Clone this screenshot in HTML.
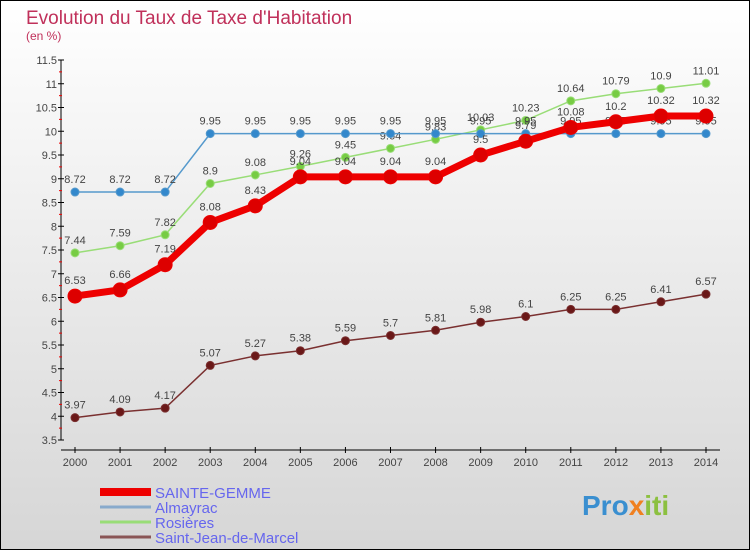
<!DOCTYPE html>
<html><head><meta charset="utf-8"><style>
body{margin:0;}
svg text{font-family:"Liberation Sans",sans-serif;}
</style></head><body>
<svg id="chart" width="750" height="550" xmlns="http://www.w3.org/2000/svg">
<defs><linearGradient id="bg" x1="0" y1="0" x2="0" y2="1"><stop offset="0" stop-color="#ffffff"/><stop offset="1" stop-color="#d6d6d6"/></linearGradient></defs>
<rect x="0.5" y="0.5" width="749" height="549" fill="url(#bg)" stroke="#000"/>
<text x="26" y="24" font-size="19" fill="#c0305a">Evolution du Taux de Taxe d'Habitation</text>
<text x="26" y="40" font-size="12" fill="#c0305a">(en %)</text>
<g id="axes"></g><g id="series"></g><g id="legend"></g>
<text x="582" y="515" font-size="28" font-weight="bold" fill="#3a8fd0">Pro<tspan fill="#f08020">x</tspan><tspan fill="#8cc040">iti</tspan></text>
</svg>
<script>
const years=[2000,2001,2002,2003,2004,2005,2006,2007,2008,2009,2010,2011,2012,2013,2014];
const yTicks=[3.5,4,4.5,5,5.5,6,6.5,7,7.5,8,8.5,9,9.5,10,10.5,11,11.5];
const sainteGemme=[6.53,6.66,7.19,8.08,8.43,9.04,9.04,9.04,9.04,9.5,9.79,10.08,10.2,10.32,10.32];
const almayrac=[8.72,8.72,8.72,9.95,9.95,9.95,9.95,9.95,9.95,9.95,9.95,9.95,9.95,9.95,9.95];
const rosieres=[7.44,7.59,7.82,8.9,9.08,9.26,9.45,9.64,9.83,10.03,10.23,10.64,10.79,10.9,11.01];
const saintJean=[3.97,4.09,4.17,5.07,5.27,5.38,5.59,5.7,5.81,5.98,6.1,6.25,6.25,6.41,6.57];
const seriesNames=["SAINTE-GEMME","Almayrac","Rosières","Saint-Jean-de-Marcel"];
const NS="http://www.w3.org/2000/svg";
const xS=i=>75+i*(706-75)/(years.length-1);
const yS=v=>60+(11.5-v)*47.5;
function mk(t,a,p){const e=document.createElementNS(NS,t);for(const k in a)e.setAttribute(k,a[k]);p.appendChild(e);return e;}
const ax=document.getElementById('axes');
const yl=mk('line',{x1:61,y1:60,x2:61,y2:440,stroke:'#000'},ax);


yTicks.forEach(v=>{
 mk('line',{x1:58,x2:64,y1:yS(v),y2:yS(v),stroke:'#000'},ax);
 const t=mk('text',{x:57,y:yS(v)+4,'font-size':11,fill:'#444','text-anchor':'end'},ax);t.textContent=String(v);
 
 
 if(v<11.5) mk('line',{x1:59,x2:62,y1:yS(v+0.25),y2:yS(v+0.25),stroke:'#e00'},ax);
});
const xl=mk('line',{x1:61,y1:450,x2:720,y2:450,stroke:'#000'},ax);


years.forEach((y,i)=>{
 mk('line',{x1:xS(i),x2:xS(i),y1:447,y2:453,stroke:'#000'},ax);
 const t=mk('text',{x:xS(i),y:466,'font-size':11,fill:'#444','text-anchor':'middle'},ax);t.textContent=y;
 
 
});
const sg=document.getElementById('series');
function draw(vals,name,color,dot,w,r,dy){
 const g=mk('g',{},sg);
 
 
 mk('polyline',{points:vals.map((v,i)=>xS(i)+','+yS(v)).join(' '),fill:'none',stroke:color,'stroke-width':w},g);
 vals.forEach((v,i)=>{
  const c=mk('circle',{cx:xS(i),cy:yS(v),r:r,fill:dot,stroke:color,'stroke-width':1},g);
  
  
  const t=mk('text',{x:xS(i),y:yS(v)+dy,'font-size':11,fill:'#444','text-anchor':'middle'},g);t.textContent=String(v);
  
  
 });
}
draw(saintJean,'saint-jean-de-marcel','#7a3030','#6a1818',1.5,4,-9);
draw(rosieres,'rosieres','#99dd77','#77cc44',1.5,4,-9);
draw(almayrac,'almayrac','#5599cc','#3388cc',1.5,4,-9);
draw(sainteGemme,'sainte-gemme','#ee0000','#dd0000',7,7,-12);
const lg=document.getElementById('legend');
const lc=['#ee0000','#88aacc','#99dd77','#8a5555'],lw=[8,3,3,3];
seriesNames.forEach((n,i)=>{
 const y=492+i*15;
 const g=mk('g',{},lg);
 
 
 mk('line',{x1:100,x2:151,y1:y,y2:y,stroke:lc[i],'stroke-width':lw[i]},g);
 const t=mk('text',{x:155,y:y+6,'font-size':15,fill:'#6666ee'},g);t.textContent=n;
});
</script>
</body></html>
